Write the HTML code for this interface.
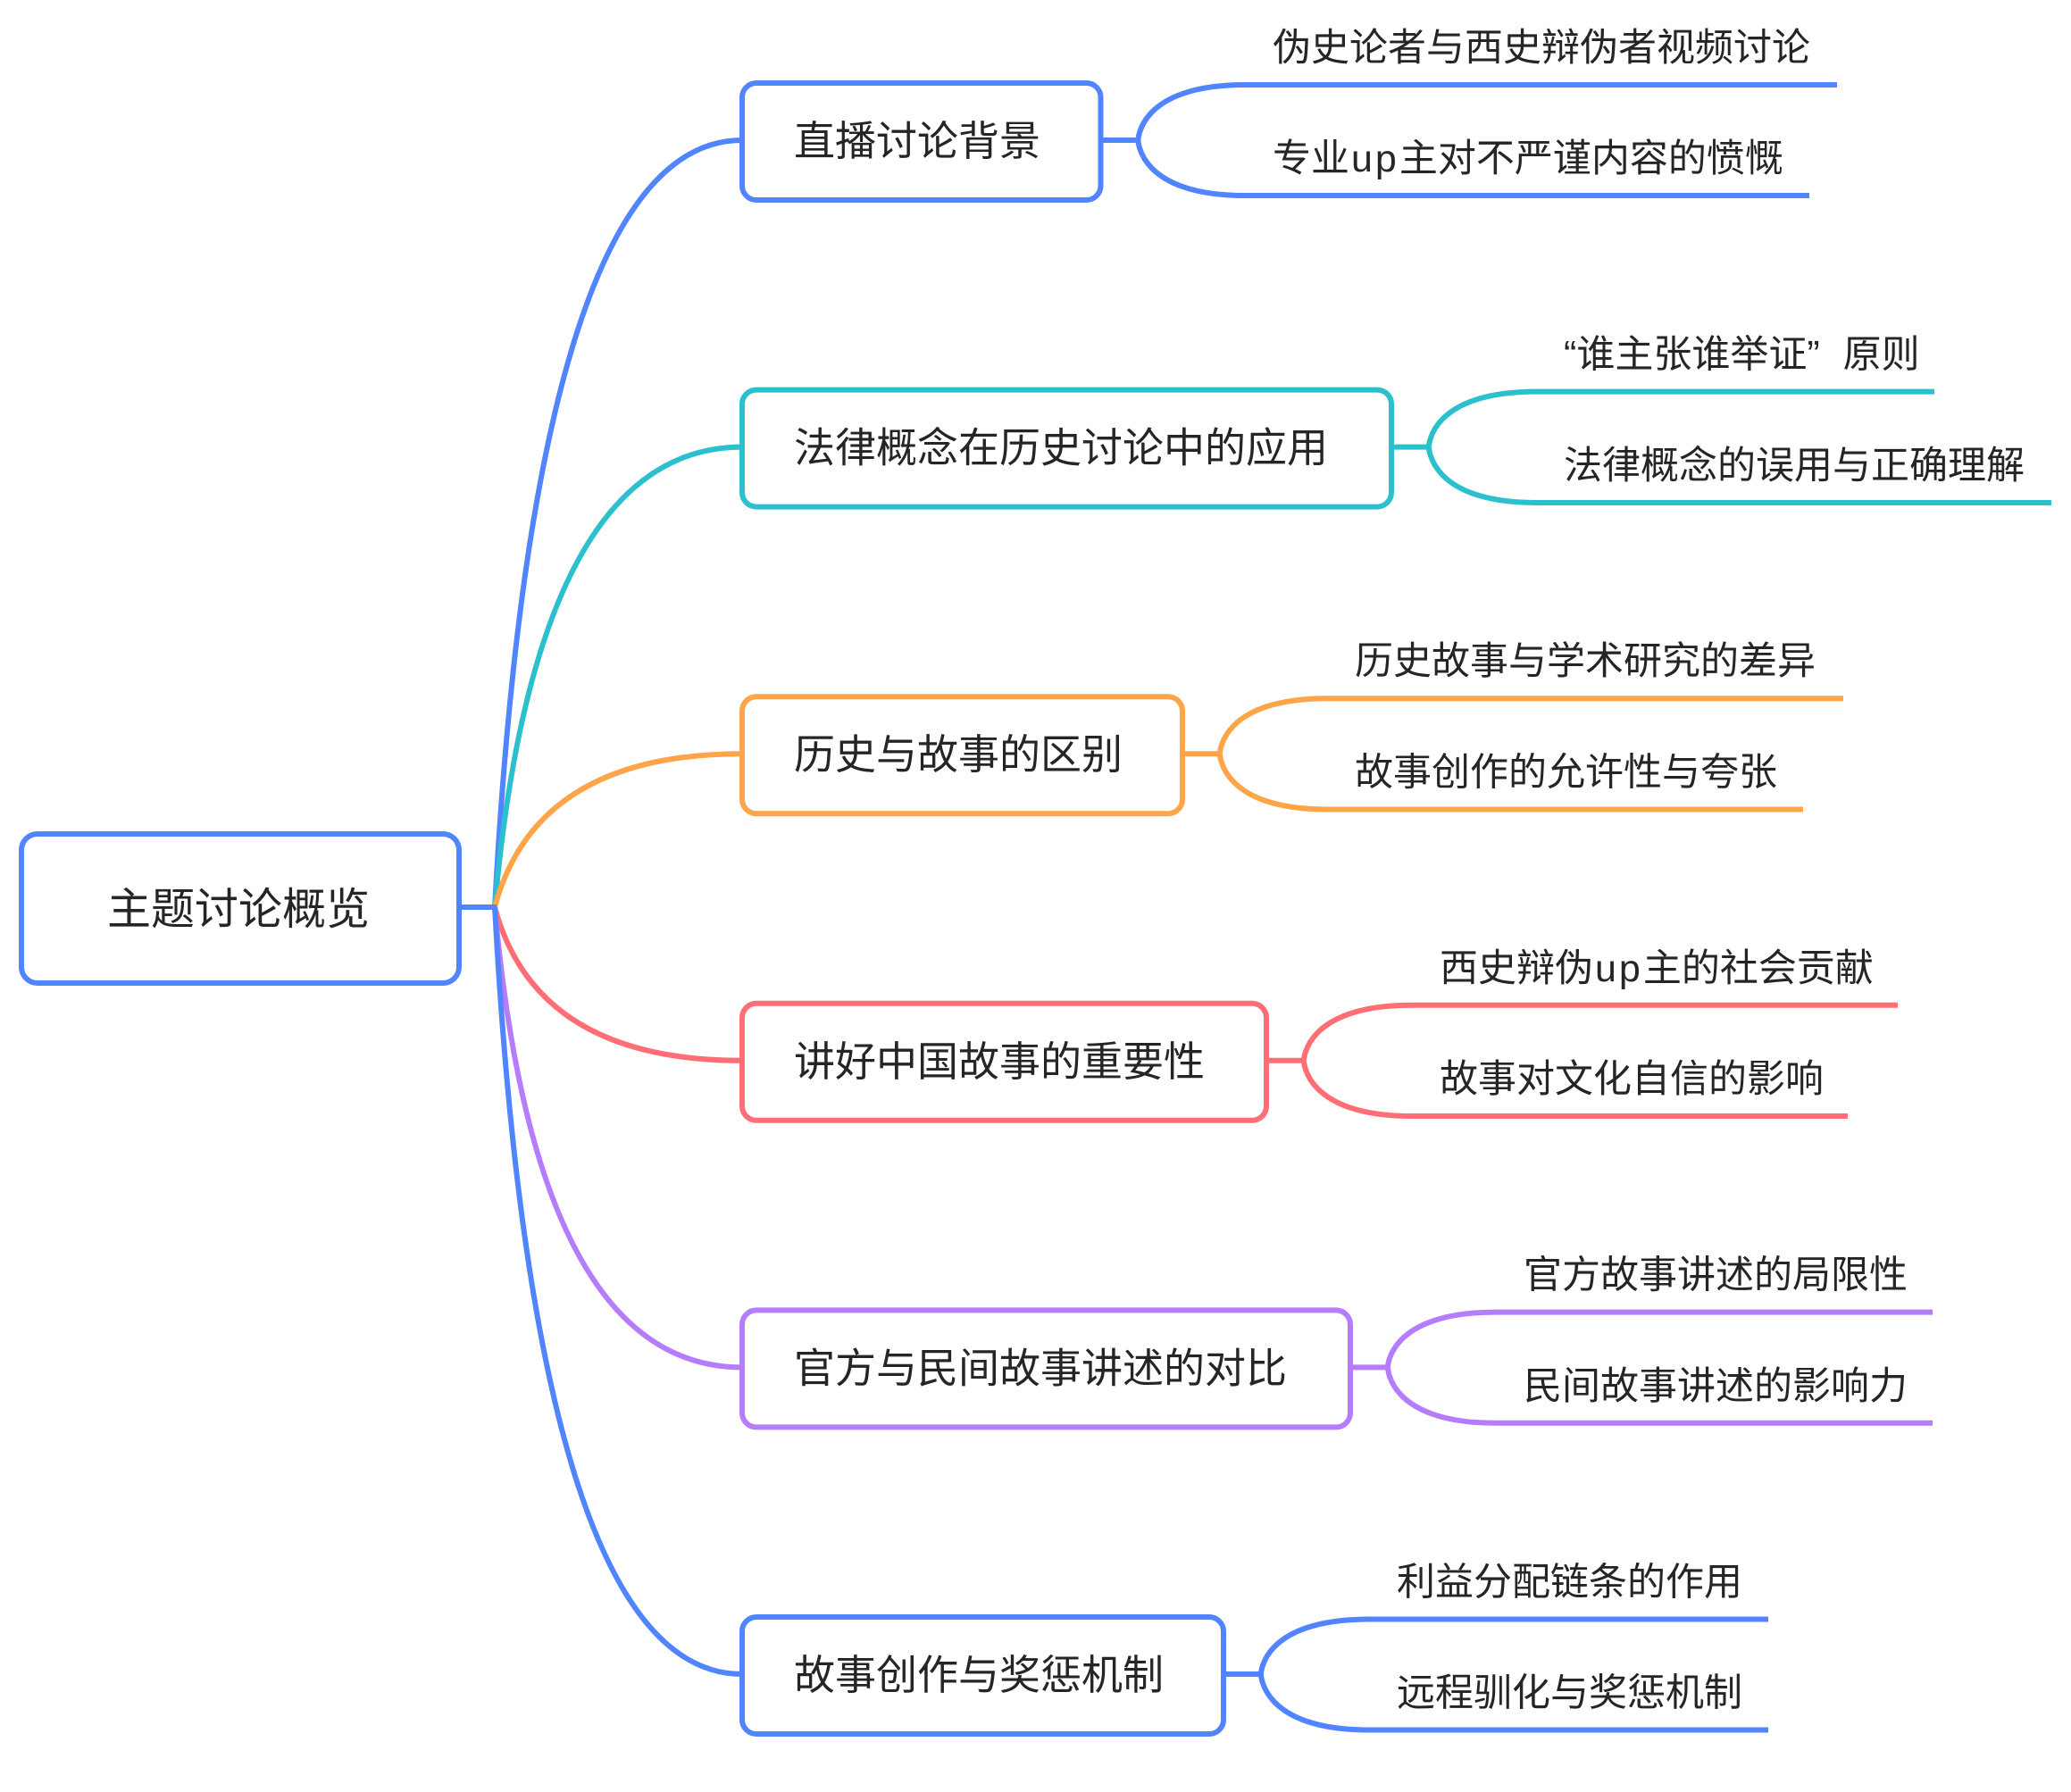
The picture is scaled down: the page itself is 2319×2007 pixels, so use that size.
<!DOCTYPE html>
<html>
<head>
<meta charset="utf-8">
<style>
  html, body { margin: 0; padding: 0; background: #ffffff; }
  body { width: 2319px; height: 2007px; overflow: hidden; }
  svg { display: block; }
  text { font-family: "Liberation Sans", "Noto Sans CJK SC", sans-serif; fill: #252525; }
  .root { font-size: 49px; }
  .br { font-size: 46px; }
  .lf { font-size: 43px; }
</style>
</head>
<body>
<svg width="2319" height="2007" viewBox="0 0 2319 2007" xmlns="http://www.w3.org/2000/svg">
  <rect x="0" y="0" width="2319" height="2007" fill="#ffffff"/>
  <g fill="none" stroke-width="6" stroke-linecap="butt" stroke-linejoin="round">
    <!-- main curves -->
    <path d="M554 1016 Q600 157 831 157" stroke="#5185FF"/>
    <path d="M554 1016 Q600 500.6 831 500.6" stroke="#2CC0CE"/>
    <path d="M554 1016 Q600 844.2 831 844.2" stroke="#FDA548"/>
    <path d="M554 1016 Q600 1187.8 831 1187.8" stroke="#FF6D75"/>
    <path d="M554 1016 Q600 1531.4 831 1531.4" stroke="#B57CFC"/>
    <path d="M554 1016 Q600 1875 831 1875" stroke="#5185FF"/>
    <!-- root connector -->
    <path d="M514 1016 H556" stroke="#5185FF"/>

    <!-- Branch 1 -->
    <path d="M1232.5 157 H1274.5" stroke="#5185FF"/>
    <path d="M1274.5 157 C1274.5 157 1274.5 95 1394 95 H2057" stroke="#5185FF"/>
    <path d="M1274.5 157 C1274.5 157 1274.5 219 1394 219 H2026" stroke="#5185FF"/>

    <!-- Branch 2 -->
    <path d="M1558 500.6 H1600" stroke="#2CC0CE"/>
    <path d="M1600 500.6 C1600 500.6 1600 438.6 1720 438.6 H2166" stroke="#2CC0CE"/>
    <path d="M1600 500.6 C1600 500.6 1600 563 1720 563 H2297" stroke="#2CC0CE"/>

    <!-- Branch 3 -->
    <path d="M1324 844.2 H1366" stroke="#FDA548"/>
    <path d="M1366 844.2 C1366 844.2 1366 782.2 1486 782.2 H2064" stroke="#FDA548"/>
    <path d="M1366 844.2 C1366 844.2 1366 906.5 1486 906.5 H2019" stroke="#FDA548"/>

    <!-- Branch 4 -->
    <path d="M1418 1187.8 H1460" stroke="#FF6D75"/>
    <path d="M1460 1187.8 C1460 1187.8 1460 1125.8 1581 1125.8 H2125" stroke="#FF6D75"/>
    <path d="M1460 1187.8 C1460 1187.8 1460 1250 1581 1250 H2069" stroke="#FF6D75"/>

    <!-- Branch 5 -->
    <path d="M1512 1531.4 H1554" stroke="#B57CFC"/>
    <path d="M1554 1531.4 C1554 1531.4 1554 1469.6 1675 1469.6 H2164" stroke="#B57CFC"/>
    <path d="M1554 1531.4 C1554 1531.4 1554 1593.8 1675 1593.8 H2164" stroke="#B57CFC"/>

    <!-- Branch 6 -->
    <path d="M1370 1875 H1412" stroke="#5185FF"/>
    <path d="M1412 1875 C1412 1875 1412 1813.5 1533 1813.5 H1980" stroke="#5185FF"/>
    <path d="M1412 1875 C1412 1875 1412 1937.5 1533 1937.5 H1980" stroke="#5185FF"/>

    <!-- boxes -->
    <rect x="24" y="934" width="490" height="167" rx="18" ry="18" fill="#ffffff" stroke="#5185FF"/>
    <rect x="831" y="93" width="401.5" height="131" rx="16" ry="16" fill="#ffffff" stroke="#5185FF"/>
    <rect x="831" y="436.6" width="727" height="131" rx="16" ry="16" fill="#ffffff" stroke="#2CC0CE"/>
    <rect x="831" y="780.2" width="493" height="131" rx="16" ry="16" fill="#ffffff" stroke="#FDA548"/>
    <rect x="831" y="1123.8" width="587" height="131" rx="16" ry="16" fill="#ffffff" stroke="#FF6D75"/>
    <rect x="831" y="1467.4" width="681" height="131" rx="16" ry="16" fill="#ffffff" stroke="#B57CFC"/>
    <rect x="831" y="1811" width="539" height="131" rx="16" ry="16" fill="#ffffff" stroke="#5185FF"/>
  </g>

  <!-- root text -->
  <text class="root" x="120" y="1035">主题讨论概览</text>

  <!-- branch texts -->
  <text class="br" x="889" y="174">直播讨论背景</text>
  <text class="br" x="889" y="517.6">法律概念在历史讨论中的应用</text>
  <text class="br" x="889" y="861.2">历史与故事的区别</text>
  <text class="br" x="889" y="1204.8">讲好中国故事的重要性</text>
  <text class="br" x="889" y="1548.4">官方与民间故事讲述的对比</text>
  <text class="br" x="889" y="1892">故事创作与奖惩机制</text>

  <!-- leaf texts -->
  <text class="lf" x="1425" y="68">伪史论者与西史辩伪者视频讨论</text>
  <text class="lf" x="1425" y="192">专业<tspan dx="2">u</tspan><tspan dx="3">p</tspan><tspan dx="3">主对不严谨内容的愤慨</tspan></text>

  <text class="lf" x="1751" y="411.6">“谁主张谁举证” <tspan dx="14">原则</tspan></text>
  <text class="lf" x="1751" y="536">法律概念的误用与正确理解</text>

  <text class="lf" x="1517" y="755.2">历史故事与学术研究的差异</text>
  <text class="lf" x="1517" y="879.5">故事创作的允许性与夸张</text>

  <text class="lf" x="1612" y="1098.8">西史辩伪<tspan dx="2">u</tspan><tspan dx="3">p</tspan><tspan dx="3">主的社会贡献</tspan></text>
  <text class="lf" x="1612" y="1223">故事对文化自信的影响</text>

  <text class="lf" x="1706" y="1442.6">官方故事讲述的局限性</text>
  <text class="lf" x="1706" y="1566.8">民间故事讲述的影响力</text>

  <text class="lf" x="1564" y="1786.5">利益分配链条的作用</text>
  <text class="lf" x="1564" y="1910.5">远程驯化与奖惩机制</text>
</svg>
</body>
</html>
